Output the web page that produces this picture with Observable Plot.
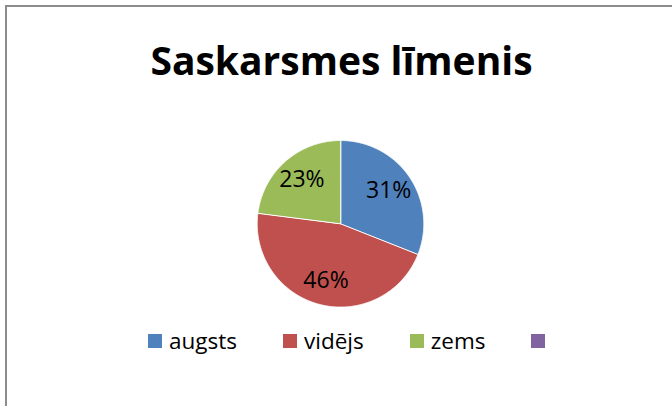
<!DOCTYPE html>
<html><head><meta charset="utf-8">
<script src="https://cdn.jsdelivr.net/npm/d3@7"></script>
<script src="https://cdn.jsdelivr.net/npm/@observablehq/plot@0.6"></script>
<style>
html,body{margin:0;padding:0;background:#fff;}
#wrap{position:relative;width:672px;height:406px;overflow:hidden;font-family:"Open Sans",sans-serif;}
#chart{position:absolute;left:0;top:0;}
#frame{position:absolute;left:5px;top:5px;width:720px;height:460px;border:2px solid #8c8c8c;box-sizing:border-box;pointer-events:none;}
#legend{position:absolute;left:148px;top:326px;display:flex;align-items:center;font-size:22.5px;color:#000;line-height:30px;}
.item{display:flex;align-items:center;margin-right:46px;}
.sw{width:14px;height:14px;margin-right:7px;flex:none;}
</style></head><body>
<div id="wrap"><div id="chart"></div><div id="legend"></div><div id="frame"></div></div>
<script>
const title = "Saskarsmes līmenis";
const categories = ["augsts", "vidējs", "zems", ""];
const values = [31, 46, 23, 0];
const colors = ["#4F81BD", "#C0504D", "#9BBB59", "#8064A2"];

// layout
const W = 672, H = 406, CX = 340, CY = 223.3, R = 83.3, LABEL_K = 0.7;

const rows = categories.map((c, i) => ({key: c, value: values[i]}));
const arcs = d3.pie().sort(null).value(d => d.value)(rows.filter(d => d.value > 0));

const pts = [];
for (const a of arcs) {
  pts.push({key: a.data.key, x: 0, y: 0});
  const n = Math.max(2, Math.ceil((a.endAngle - a.startAngle) / 0.005));
  for (let i = 0; i <= n; i++) {
    const t = a.startAngle + (a.endAngle - a.startAngle) * i / n;
    pts.push({key: a.data.key, x: Math.sin(t), y: Math.cos(t)});
  }
}
const mid = a => (a.startAngle + a.endAngle) / 2;

const chart = Plot.plot({
  width: W, height: H, margin: 0,
  style: {background: "transparent", fontFamily: "'Open Sans', sans-serif", overflow: "visible"},
  x: {domain: [-CX / R, (W - CX) / R], axis: null},
  y: {domain: [-(H - CY) / R, CY / R], axis: null},
  color: {domain: categories, range: colors},
  marks: [
    Plot.line(pts, {x: "x", y: "y", z: "key", fill: "key", stroke: "white", strokeWidth: 1, curve: "linear-closed"}),
    Plot.text(arcs, {
      x: a => LABEL_K * Math.sin(mid(a)),
      y: a => LABEL_K * Math.cos(mid(a)),
      text: a => a.data.value + "%",
      fontSize: 23, fill: "#000"
    }),
    Plot.text([title], {frameAnchor: "top", dx: 5, dy: 74, lineAnchor: "bottom", fontSize: 39, fontWeight: "bold", fill: "#000"})
  ]
});
document.getElementById("chart").append(chart);

const leg = d3.select("#legend");
categories.forEach((c, i) => {
  const it = leg.append("div").attr("class", "item");
  it.append("div").attr("class", "sw").style("background", colors[i]);
  it.append("span").text(c);
});
</script>
</body></html>
